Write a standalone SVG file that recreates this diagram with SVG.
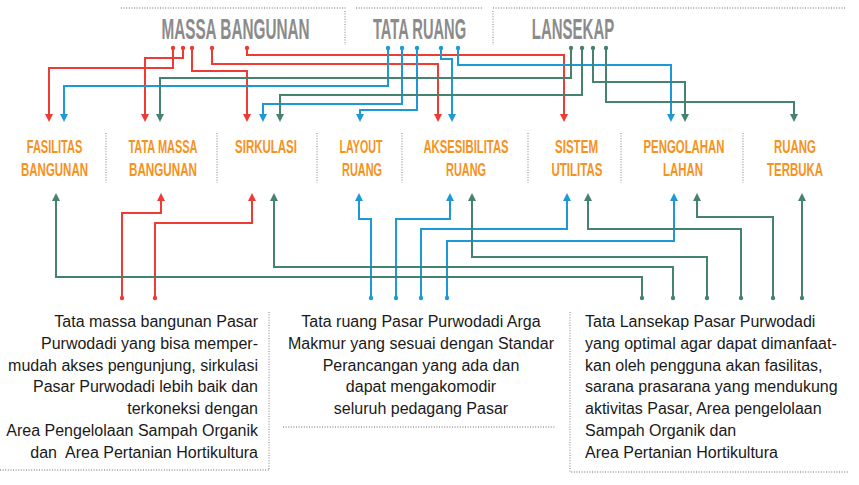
<svg xmlns="http://www.w3.org/2000/svg" width="859" height="485" viewBox="0 0 859 485">
<style>
.hd{font-family:"Liberation Sans",Arial,sans-serif;font-weight:bold;font-size:29px;fill:#8b8b8b;text-anchor:middle}
.lb{font-family:"Liberation Sans",Arial,sans-serif;font-weight:bold;font-size:19px;fill:#f6921e;text-anchor:middle}
.tx{font-family:"Liberation Sans",Arial,sans-serif;font-size:16px;fill:#1a1a1a}
.dot{fill:none;stroke:#9a9a9a;stroke-width:1.3;stroke-dasharray:1 1.6}
.c{fill:none;stroke-width:2}
.r{stroke:#ee3b33;marker-start:url(#dr);marker-end:url(#ar)}
.b{stroke:#1d9ad6;marker-start:url(#db);marker-end:url(#ab)}
.g{stroke:#45826f;marker-start:url(#dg);marker-end:url(#ag)}
</style>
<defs>
<marker id="ar" markerUnits="userSpaceOnUse" viewBox="0 0 8 8" markerWidth="8" markerHeight="8" refX="0" refY="4" orient="auto"><path d="M0,0 L8,4 L0,8 z" fill="#ee3b33"/></marker>
<marker id="ab" markerUnits="userSpaceOnUse" viewBox="0 0 8 8" markerWidth="8" markerHeight="8" refX="0" refY="4" orient="auto"><path d="M0,0 L8,4 L0,8 z" fill="#1d9ad6"/></marker>
<marker id="ag" markerUnits="userSpaceOnUse" viewBox="0 0 8 8" markerWidth="8" markerHeight="8" refX="0" refY="4" orient="auto"><path d="M0,0 L8,4 L0,8 z" fill="#45826f"/></marker>
<marker id="dr" markerUnits="userSpaceOnUse" viewBox="0 0 6 6" markerWidth="6" markerHeight="6" refX="3" refY="3"><circle cx="3" cy="3" r="2.2" fill="#ee3b33"/></marker>
<marker id="db" markerUnits="userSpaceOnUse" viewBox="0 0 6 6" markerWidth="6" markerHeight="6" refX="3" refY="3"><circle cx="3" cy="3" r="2.2" fill="#1d9ad6"/></marker>
<marker id="dg" markerUnits="userSpaceOnUse" viewBox="0 0 6 6" markerWidth="6" markerHeight="6" refX="3" refY="3"><circle cx="3" cy="3" r="2.2" fill="#45826f"/></marker>
</defs>
<rect width="859" height="485" fill="#ffffff"/>

<g id="frame">
<path class="dot" d="M121,8 H346 M356,8 H482 M493,8 H845 M345,11 V45 M493,11 V45"/>
<path class="dot" d="M106,133 V183 M217,133 V183 M317,133 V183 M402,133 V183 M528,133 V183 M621,133 V183 M743,133 V183"/>
<path class="dot" d="M269,312 V470 M0,470 H269 M283,427 H556 M570,312 V472 H848"/>
</g>

<g id="massa-bangunan"><text class="hd" transform="translate(235.5,39) scale(0.528,1)">MASSA BANGUNAN</text></g>
<g id="tata-ruang"><text class="hd" transform="translate(419.5,39) scale(0.506,1)">TATA RUANG</text></g>
<g id="lansekap"><text class="hd" transform="translate(573,39) scale(0.517,1)">LANSEKAP</text></g>

<g id="fasilitas-bangunan">
<text class="lb" transform="translate(54.5,153) scale(0.58,1)">FASILITAS</text>
<text class="lb" transform="translate(54.5,176) scale(0.605,1)">BANGUNAN</text>
</g>
<g id="tata-massa-bangunan">
<text class="lb" transform="translate(163,153) scale(0.578,1)">TATA MASSA</text>
<text class="lb" transform="translate(163,176) scale(0.614,1)">BANGUNAN</text>
</g>
<g id="sirkulasi">
<text class="lb" transform="translate(266,153) scale(0.605,1)">SIRKULASI</text>
</g>
<g id="layout-ruang">
<text class="lb" transform="translate(361,153) scale(0.563,1)">LAYOUT</text>
<text class="lb" transform="translate(362,176) scale(0.574,1)">RUANG</text>
</g>
<g id="aksesibilitas-ruang">
<text class="lb" transform="translate(466,153) scale(0.595,1)">AKSESIBILITAS</text>
<text class="lb" transform="translate(466,176) scale(0.574,1)">RUANG</text>
</g>
<g id="sistem-utilitas">
<text class="lb" transform="translate(576.5,153) scale(0.608,1)">SISTEM</text>
<text class="lb" transform="translate(577,176) scale(0.608,1)">UTILITAS</text>
</g>
<g id="pengolahan-lahan">
<text class="lb" transform="translate(684,153) scale(0.6,1)">PENGOLAHAN</text>
<text class="lb" transform="translate(683,176) scale(0.6,1)">LAHAN</text>
</g>
<g id="ruang-terbuka">
<text class="lb" transform="translate(795,153) scale(0.603,1)">RUANG</text>
<text class="lb" transform="translate(795,176) scale(0.603,1)">TERBUKA</text>
</g>

<g id="ket-massa" class="tx" text-anchor="end">
<text x="258" y="327">Tata massa bangunan Pasar</text>
<text x="258" y="348.8">Purwodadi yang bisa memper-</text>
<text x="258" y="370.6">mudah akses pengunjung, sirkulasi</text>
<text x="258" y="392.4">Pasar Purwodadi lebih baik dan</text>
<text x="258" y="414.2">terkoneksi dengan</text>
<text x="258" y="436">Area Pengelolaan Sampah Organik</text>
<text x="258" y="457.8" xml:space="preserve">dan  Area Pertanian Hortikultura</text>
</g>
<g id="ket-ruang" class="tx" text-anchor="middle">
<text x="421" y="327">Tata ruang Pasar Purwodadi Arga</text>
<text x="421" y="348.8">Makmur yang sesuai dengan Standar</text>
<text x="421" y="370.6">Perancangan yang ada dan</text>
<text x="421" y="392.4">dapat mengakomodir</text>
<text x="421" y="414.2">seluruh pedagang Pasar</text>
</g>
<g id="ket-lansekap" class="tx">
<text x="585" y="327">Tata Lansekap Pasar Purwodadi</text>
<text x="585" y="348.8">yang optimal agar dapat dimanfaat-</text>
<text x="585" y="370.6">kan oleh pengguna akan fasilitas,</text>
<text x="585" y="392.4">sarana prasarana yang mendukung</text>
<text x="585" y="414.2">aktivitas Pasar, Area pengelolaan</text>
<text x="585" y="436">Sampah Organik dan</text>
<text x="585" y="457.8">Area Pertanian Hortikultura</text>
</g>

<g id="connectors">
<path class="c r" d="M173,48 V68 H49 V114"/>
<path class="c r" d="M183,48 V58 H145 V114"/>
<path class="c r" d="M192,48 V71 H247 V114"/>
<path class="c r" d="M212,48 V64 H438 V114"/>
<path class="c r" d="M247,48 V55 H564 V114"/>
<path class="c b" d="M388,48 V86 H64 V114"/>
<path class="c b" d="M402,48 V104 H263 V114"/>
<path class="c b" d="M417,48 V110 H360 V114"/>
<path class="c b" d="M441,48 V59 H452 V114"/>
<path class="c b" d="M458,48 V65 H671 V114"/>
<path class="c g" d="M571,48 V78 H160 V114"/>
<path class="c g" d="M582,48 V95 H280 V114"/>
<path class="c g" d="M593,48 V82 H685 V114"/>
<path class="c g" d="M606,48 V102 H794 V114"/>

<path class="c r" d="M122,298 V213 H161 V201"/>
<path class="c r" d="M155,298 V223 H252 V201"/>
<path class="c b" d="M371,298 V219 H359 V201"/>
<path class="c b" d="M396,298 V219 H450 V201"/>
<path class="c b" d="M421,298 V229 H567 V201"/>
<path class="c b" d="M447,298 V241 H674 V201"/>
<path class="c g" d="M642,298 V277 H56 V201"/>
<path class="c g" d="M673,298 V267 H274 V201"/>
<path class="c g" d="M707,298 V257 H472 V201"/>
<path class="c g" d="M741,298 V229 H588 V201"/>
<path class="c g" d="M773,298 V217 H697 V201"/>
<path class="c g" d="M802,298 V201"/>
</g>
</svg>
